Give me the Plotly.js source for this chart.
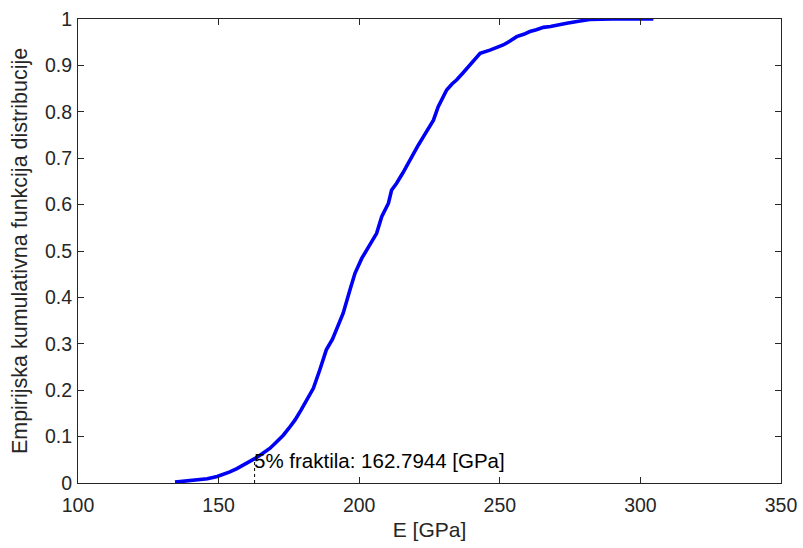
<!DOCTYPE html>
<html>
<head>
<meta charset="utf-8">
<script src="https://cdn.plot.ly/plotly-3.0.1.min.js"></script>
<style>html,body{margin:0;padding:0;background:#fff;}#chart{width:803px;height:548px;}</style>
</head>
<body>
<div id="chart"></div>
<script>
const eValues = [134.5, 138, 142, 146, 149.5, 152, 154, 156.5, 159, 161, 163, 165.5, 168.3, 170.5, 173, 175, 177.2, 179.2, 181.3, 183.7, 186, 188.3, 190.5, 192.5, 194.3, 196.7, 198.5, 200.9, 203.8, 206.2, 208, 210.4, 211.5, 213.3, 215.5, 217.5, 219.2, 221, 222.8, 224.6, 226.4, 228.1, 229.5, 231.1, 233, 234.7, 236.8, 238.8, 241, 243, 246.5, 249, 251.2, 253.5, 256, 258.5, 260.7, 263, 265.5, 268, 271, 273.8, 278, 282, 290, 297, 304.6];
const cdfValues = [0.002, 0.004, 0.006, 0.009, 0.014, 0.019, 0.024, 0.031, 0.039, 0.046, 0.053, 0.063, 0.075, 0.088, 0.103, 0.118, 0.136, 0.156, 0.179, 0.204, 0.244, 0.287, 0.31, 0.34, 0.366, 0.416, 0.452, 0.484, 0.513, 0.538, 0.574, 0.603, 0.631, 0.646, 0.668, 0.69, 0.711, 0.728, 0.746, 0.765, 0.782, 0.811, 0.83, 0.847, 0.86, 0.869, 0.883, 0.897, 0.912, 0.926, 0.933, 0.938, 0.944, 0.952, 0.962, 0.967, 0.973, 0.977, 0.982, 0.984, 0.988, 0.991, 0.995, 0.999, 1.0, 1.0, 1.0];
const fractileX = [162.7944, 162.7944];
const fractileY = [0, 0.05];
const fractileLabel = "5% fraktila: 162.7944 [GPa]";
const xTitle = "E [GPa]";
const yTitle = "Empirijska kumulativna funkcija distribucije";

const font = "Liberation Sans, Arial, Helvetica, sans-serif";
const axisCol = "#262626";

const traces = [
  {x: eValues, y: cdfValues, type: "scatter", mode: "lines",
   line: {color: "#0000f5", width: 3.6}, hoverinfo: "skip"},
  {x: fractileX, y: fractileY, type: "scatter", mode: "lines",
   line: {color: "#000000", width: 1, dash: "dot"}, hoverinfo: "skip"}
];

const axisCommon = {
  showgrid: false, zeroline: false, showline: true, linecolor: axisCol, linewidth: 1,
  mirror: "ticks", ticks: "inside", ticklen: 6, tickcolor: axisCol, tickwidth: 1,
  tickfont: {family: font, size: 19.5, color: axisCol}
};

const layout = {
  width: 803, height: 548,
  margin: {l: 78, r: 22, t: 19, b: 65},
  paper_bgcolor: "#ffffff", plot_bgcolor: "#ffffff",
  showlegend: false,
  xaxis: Object.assign({}, axisCommon, {
    range: [100, 350], dtick: 50, tick0: 100, ticklabelstandoff: 5,
    title: {text: xTitle, font: {family: font, size: 21, color: axisCol}, standoff: 6}
  }),
  yaxis: Object.assign({}, axisCommon, {
    range: [0, 1], dtick: 0.1, tick0: 0, ticklabelstandoff: 1,
    title: {text: yTitle, font: {family: font, size: 21.5, color: axisCol}, standoff: 11}
  }),
  annotations: [{
    x: fractileX[0], y: fractileY[1], xref: "x", yref: "y",
    text: fractileLabel, showarrow: false, xanchor: "left", yanchor: "middle",
    xshift: -3, yshift: -1,
    font: {family: font, size: 20.5, color: "#000000"}
  }]
};

Plotly.newPlot("chart", traces, layout, {displayModeBar: false, staticPlot: true});
</script>
</body>
</html>
